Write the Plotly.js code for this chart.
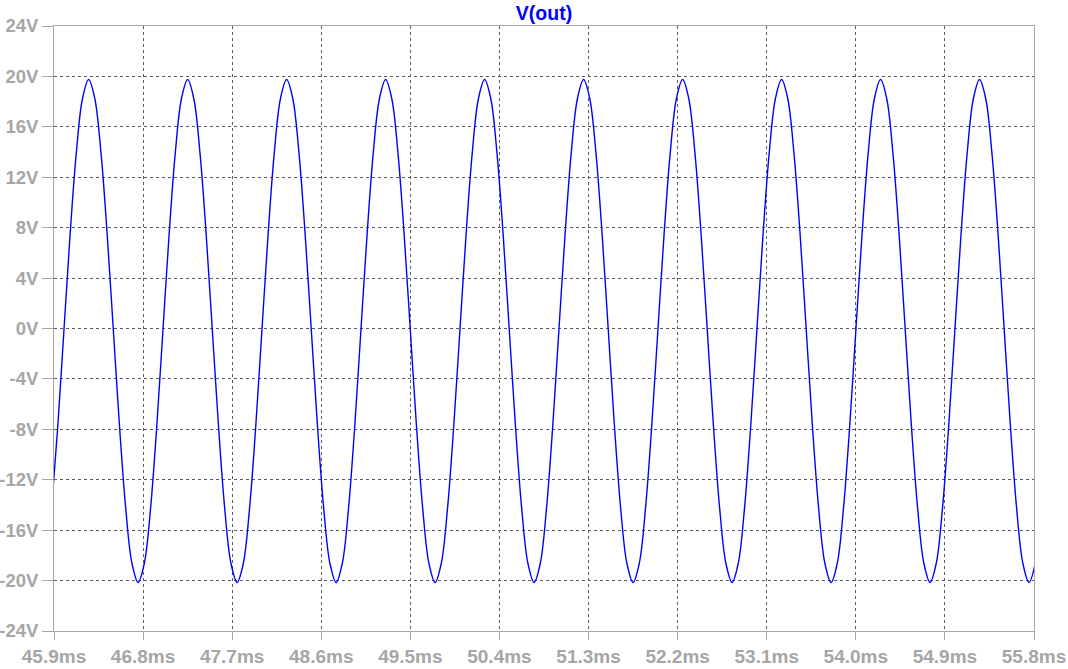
<!DOCTYPE html>
<html>
<head>
<meta charset="utf-8">
<script src="https://cdn.plot.ly/plotly-3.0.1.min.js"></script>
<style>
  html, body { margin: 0; padding: 0; background: #ffffff; }
  #chart { width: 1068px; height: 669px; }
</style>
</head>
<body>
<div id="chart"></div>
<script>
// Time samples (ms)
const timeMs = [
  45.875, 45.9375,
  46, 46.0625, 46.125, 46.1875, 46.25, 46.3125, 46.375, 46.4375, 46.5, 46.5625, 46.625, 46.6875, 46.75, 46.8125, 46.875, 46.9375,
  47, 47.0625, 47.125, 47.1875, 47.25, 47.3125, 47.375, 47.4375, 47.5, 47.5625, 47.625, 47.6875, 47.75, 47.8125, 47.875, 47.9375,
  48, 48.0625, 48.125, 48.1875, 48.25, 48.3125, 48.375, 48.4375, 48.5, 48.5625, 48.625, 48.6875, 48.75, 48.8125, 48.875, 48.9375,
  49, 49.0625, 49.125, 49.1875, 49.25, 49.3125, 49.375, 49.4375, 49.5, 49.5625, 49.625, 49.6875, 49.75, 49.8125, 49.875, 49.9375,
  50, 50.0625, 50.125, 50.1875, 50.25, 50.3125, 50.375, 50.4375, 50.5, 50.5625, 50.625, 50.6875, 50.75, 50.8125, 50.875, 50.9375,
  51, 51.0625, 51.125, 51.1875, 51.25, 51.3125, 51.375, 51.4375, 51.5, 51.5625, 51.625, 51.6875, 51.75, 51.8125, 51.875, 51.9375,
  52, 52.0625, 52.125, 52.1875, 52.25, 52.3125, 52.375, 52.4375, 52.5, 52.5625, 52.625, 52.6875, 52.75, 52.8125, 52.875, 52.9375,
  53, 53.0625, 53.125, 53.1875, 53.25, 53.3125, 53.375, 53.4375, 53.5, 53.5625, 53.625, 53.6875, 53.75, 53.8125, 53.875, 53.9375,
  54, 54.0625, 54.125, 54.1875, 54.25, 54.3125, 54.375, 54.4375, 54.5, 54.5625, 54.625, 54.6875, 54.75, 54.8125, 54.875, 54.9375,
  55, 55.0625, 55.125, 55.1875, 55.25, 55.3125, 55.375, 55.4375, 55.5, 55.5625, 55.625, 55.6875, 55.75, 55.8125
];

// V(out) values (V) read at those times
const vOut = [
  -14.31, -7.83,
  -0.2, 7.43, 13.91, 18.23, 19.75, 18.23, 13.91, 7.43, -0.2, -7.83, -14.31, -18.63, -20.15, -18.63, -14.31, -7.83,
  -0.2, 7.43, 13.91, 18.23, 19.75, 18.23, 13.91, 7.43, -0.2, -7.83, -14.31, -18.63, -20.15, -18.63, -14.31, -7.83,
  -0.2, 7.43, 13.91, 18.23, 19.75, 18.23, 13.91, 7.43, -0.2, -7.83, -14.31, -18.63, -20.15, -18.63, -14.31, -7.83,
  -0.2, 7.43, 13.91, 18.23, 19.75, 18.23, 13.91, 7.43, -0.2, -7.83, -14.31, -18.63, -20.15, -18.63, -14.31, -7.83,
  -0.2, 7.43, 13.91, 18.23, 19.75, 18.23, 13.91, 7.43, -0.2, -7.83, -14.31, -18.63, -20.15, -18.63, -14.31, -7.83,
  -0.2, 7.43, 13.91, 18.23, 19.75, 18.23, 13.91, 7.43, -0.2, -7.83, -14.31, -18.63, -20.15, -18.63, -14.31, -7.83,
  -0.2, 7.43, 13.91, 18.23, 19.75, 18.23, 13.91, 7.43, -0.2, -7.83, -14.31, -18.63, -20.15, -18.63, -14.31, -7.83,
  -0.2, 7.43, 13.91, 18.23, 19.75, 18.23, 13.91, 7.43, -0.2, -7.83, -14.31, -18.63, -20.15, -18.63, -14.31, -7.83,
  -0.2, 7.43, 13.91, 18.23, 19.75, 18.23, 13.91, 7.43, -0.2, -7.83, -14.31, -18.63, -20.15, -18.63, -14.31, -7.83,
  -0.2, 7.43, 13.91, 18.23, 19.75, 18.23, 13.91, 7.43, -0.2, -7.83, -14.31, -18.63, -20.15, -18.63
];

const xTickVals = [45.9, 46.8, 47.7, 48.6, 49.5, 50.4, 51.3, 52.2, 53.1, 54.0, 54.9, 55.8];
const xTickText = ['45.9ms', '46.8ms', '47.7ms', '48.6ms', '49.5ms', '50.4ms', '51.3ms', '52.2ms', '53.1ms', '54.0ms', '54.9ms', '55.8ms'];
const yTickVals = [-24, -20, -16, -12, -8, -4, 0, 4, 8, 12, 16, 20, 24];
const yTickText = ['-24V', '-20V', '-16V', '-12V', '-8V', '-4V', '0V', '4V', '8V', '12V', '16V', '20V', '24V'];

const xTickFont = { family: 'Liberation Sans, Arial, sans-serif', size: 19, color: '#a6a6a6', weight: 700 };
const yTickFont = { family: 'Liberation Sans, Arial, sans-serif', size: 18.5, color: '#a6a6a6', weight: 700 };

const trace = {
  x: timeMs,
  y: vOut,
  type: 'scatter',
  mode: 'lines',
  line: { color: '#0000ff', width: 1.4, shape: 'spline', smoothing: 1 },
  hoverinfo: 'x+y'
};

const layout = {
  width: 1068,
  height: 669,
  margin: { l: 54, r: 34, t: 26, b: 38, pad: 0 },
  paper_bgcolor: '#ffffff',
  plot_bgcolor: '#ffffff',
  showlegend: false,
  title: {
    text: 'V(out)',
    font: { family: 'Liberation Sans, Arial, sans-serif', size: 19.5, color: '#0000ff', weight: 700 },
    x: 0.5, xref: 'paper', xanchor: 'center',
    y: 1 - 13 / 669, yref: 'container', yanchor: 'middle'
  },
  xaxis: {
    range: [45.9, 55.8],
    tickvals: xTickVals,
    ticktext: xTickText,
    ticks: 'outside',
    ticklen: 8,
    tickwidth: 1,
    tickcolor: '#a6a6a6',
    tickfont: xTickFont,
    showline: true,
    linecolor: '#a6a6a6',
    linewidth: 1,
    mirror: true,
    showgrid: true,
    gridcolor: '#5a5a5a',
    gridwidth: 1,
    griddash: '3px,3px',
    zeroline: false,
    fixedrange: true
  },
  yaxis: {
    range: [-24, 24],
    tickvals: yTickVals,
    ticktext: yTickText,
    ticks: 'outside',
    ticklen: 11,
    tickwidth: 1,
    tickcolor: '#a6a6a6',
    tickfont: yTickFont,
    showline: true,
    linecolor: '#a6a6a6',
    linewidth: 1,
    mirror: true,
    showgrid: true,
    gridcolor: '#5a5a5a',
    gridwidth: 1,
    griddash: '3px,3px',
    zeroline: false,
    fixedrange: true
  }
};

Plotly.newPlot('chart', [trace], layout, { displayModeBar: false, staticPlot: true });
</script>
</body>
</html>
